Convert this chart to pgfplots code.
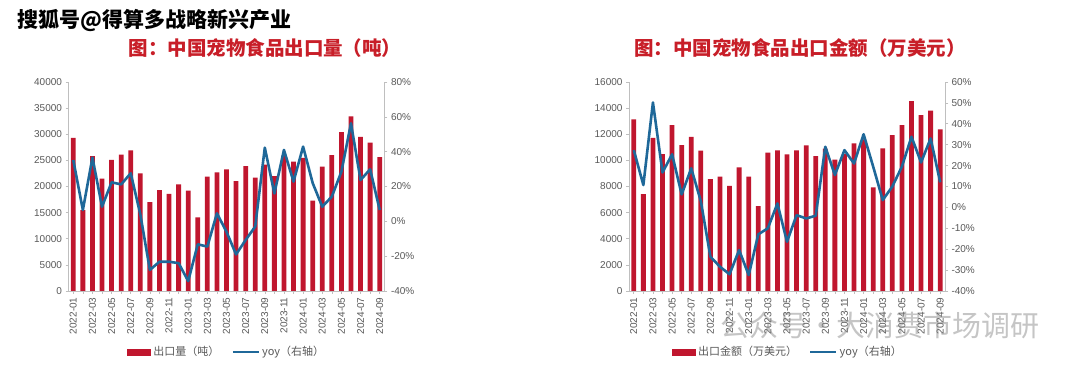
\documentclass[border=0pt]{standalone}
\usepackage{pgfplots}
\usepackage{pgfplotstable}
\pgfplotsset{compat=1.18}
\usepackage{fontspec}
\setmainfont{Liberation Sans}
\newfontfamily\cjk{Noto Sans CJK SC}
\definecolor{barred}{RGB}{192,22,46}
\definecolor{lineblue}{RGB}{31,104,153}
\definecolor{titlered}{RGB}{200,30,40}
\definecolor{tickgray}{RGB}{89,89,89}
\definecolor{axgray}{RGB}{191,191,191}

\pgfplotstableread{
x v yoy
0 29300 35.2
1 15500 6.5
2 25800 36.6
3 21500 8.4
4 25100 22.4
5 26100 21.2
6 26900 27.6
7 22500 4.0
8 17000 -27.9
9 19300 -23.2
10 18600 -23.2
11 20400 -24.0
12 19200 -34.3
13 14100 -13.2
14 21900 -14.5
15 22700 4.6
16 23300 -6.0
17 21050 -19.0
18 23900 -10.7
19 21700 -3.0
20 24200 42.3
21 22000 16.0
22 26000 41.0
23 24750 22.8
24 25500 42.9
25 17300 22.0
26 23800 8.4
27 26000 14.2
28 30400 28.5
29 33400 56.3
30 29500 23.7
31 28400 29.9
32 25600 6.5
}\tblA

\pgfplotstableread{
x v yoy
0 13140 27.4
1 7420 10.7
2 11730 50.2
3 10480 16.7
4 12700 25.4
5 11170 6.2
6 11790 18.7
7 10740 3.0
8 8570 -23.6
9 8750 -28.4
10 8040 -32.0
11 9460 -20.4
12 8750 -32.4
13 6500 -12.9
14 10590 -10.0
15 10770 1.9
16 10460 -16.4
17 10770 -3.7
18 11150 -5.3
19 10330 -4.0
20 10900 29.0
21 10050 15.5
22 10500 27.4
23 11300 21.0
24 11600 35.0
25 7930 19.5
26 10920 3.5
27 11940 10.0
28 12700 19.5
29 14540 33.8
30 13470 21.5
31 13800 33.0
32 12370 12.0
}\tblB

\pgfplotsset{
  base/.style={
    scale only axis, width=316pt, height=209pt,
    xmin=-0.5, xmax=32.5, anchor=south west,
    tick label style={font=\fontsize{10}{12}\selectfont, text=tickgray},
    /pgf/number format/assume math mode=true,
    axis line style={draw=axgray, line width=0.6pt},
    tick style={draw=axgray, line width=0.6pt},
    tick align=outside,
    major tick length=3pt, minor tick length=3pt,
    clip=false,
  },
  barax/.style={
    base, axis x line*=bottom, axis y line*=left,
    ybar, bar width=4.8pt,
    scaled y ticks=false,
    yticklabel style={/pgf/number format/.cd, fixed, 1000 sep={}},
    xtick={0,2,...,32},
    minor xtick={1,3,...,31},
    xticklabels={2022-01,2022-03,2022-05,2022-07,2022-09,2022-11,2023-01,2023-03,2023-05,2023-07,2023-09,2023-11,2024-01,2024-03,2024-05,2024-07,2024-09},
    x tick label style={rotate=90, anchor=east},
    legend columns=2,
    legend style={draw=none, fill=none, font=\cjk\fontsize{11}{13}\selectfont, text=tickgray,
      /tikz/every even column/.append style={column sep=10pt}},
  },
  lineax/.style={
    base, axis y line*=right, axis x line=none,
    yticklabel={\pgfmathprintnumber{\tick}\%},
  },
}

\begin{document}
\begin{tikzpicture}
\fill[white] (0pt,0pt) rectangle (1080pt,366pt);
\useasboundingbox (0pt,0pt) rectangle (1080pt,366pt);

\node[anchor=west, font=\cjk\bfseries\fontsize{21}{25}\selectfont] at (14pt,345pt) {搜狐号@得算多战略新兴产业};
\node[text=titlered, font=\cjk\bfseries\fontsize{19.5}{23}\selectfont] at (265pt,318pt) {图：中国宠物食品出口量（吨）};
\node[text=titlered, font=\cjk\bfseries\fontsize{19.5}{23}\selectfont] at (800pt,318pt) {图：中国宠物食品出口金额（万美元）};

% ---------- left chart ----------
\begin{axis}[barax, at={(68.5pt,75pt)}, ymin=0, ymax=40000, ytick={0,5000,...,40000},
  legend style={at={(0.501,-0.292)}, anchor=center}]
\addplot[fill=barred, draw=none,
  legend image code/.code={\fill[barred] (0pt,-3.5pt) rectangle (24pt,3.5pt);}]
  table[x=x, y=v] {\tblA};
\addlegendentry{出口量（吨）}
\addlegendimage{legend image code/.code={\draw[lineblue, line width=2.6pt] (0pt,0pt) -- (26pt,0pt);}}
\addlegendentry{yoy（右轴）}
\end{axis}
\begin{axis}[lineax, at={(68.5pt,75pt)}, ymin=-40, ymax=80, ytick={-40,-20,...,80}]
\addplot[lineblue, line width=2.6pt, mark=none, line join=round] table[x=x, y=yoy] {\tblA};
\end{axis}

% ---------- right chart ----------
\begin{axis}[barax, at={(629pt,75pt)}, ymin=0, ymax=16000, ytick={0,2000,...,16000},
  legend style={at={(0.503,-0.292)}, anchor=center}]
\addplot[fill=barred, draw=none,
  legend image code/.code={\fill[barred] (0pt,-3.5pt) rectangle (24pt,3.5pt);}]
  table[x=x, y=v] {\tblB};
\addlegendentry{出口金额（万美元）}
\addlegendimage{legend image code/.code={\draw[lineblue, line width=2.6pt] (0pt,0pt) -- (26pt,0pt);}}
\addlegendentry{yoy（右轴）}
\end{axis}
\begin{axis}[lineax, at={(629pt,75pt)}, ymin=-40, ymax=60, ytick={-40,-30,...,60}]
\addplot[lineblue, line width=2.6pt, mark=none, line join=round] table[x=x, y=yoy] {\tblB};
\end{axis}

\node[text=gray, opacity=0.45, font=\cjk\fontsize{29}{32}\selectfont] at (880pt,41pt) {公众号·大消费市场调研};
\end{tikzpicture}
\end{document}
